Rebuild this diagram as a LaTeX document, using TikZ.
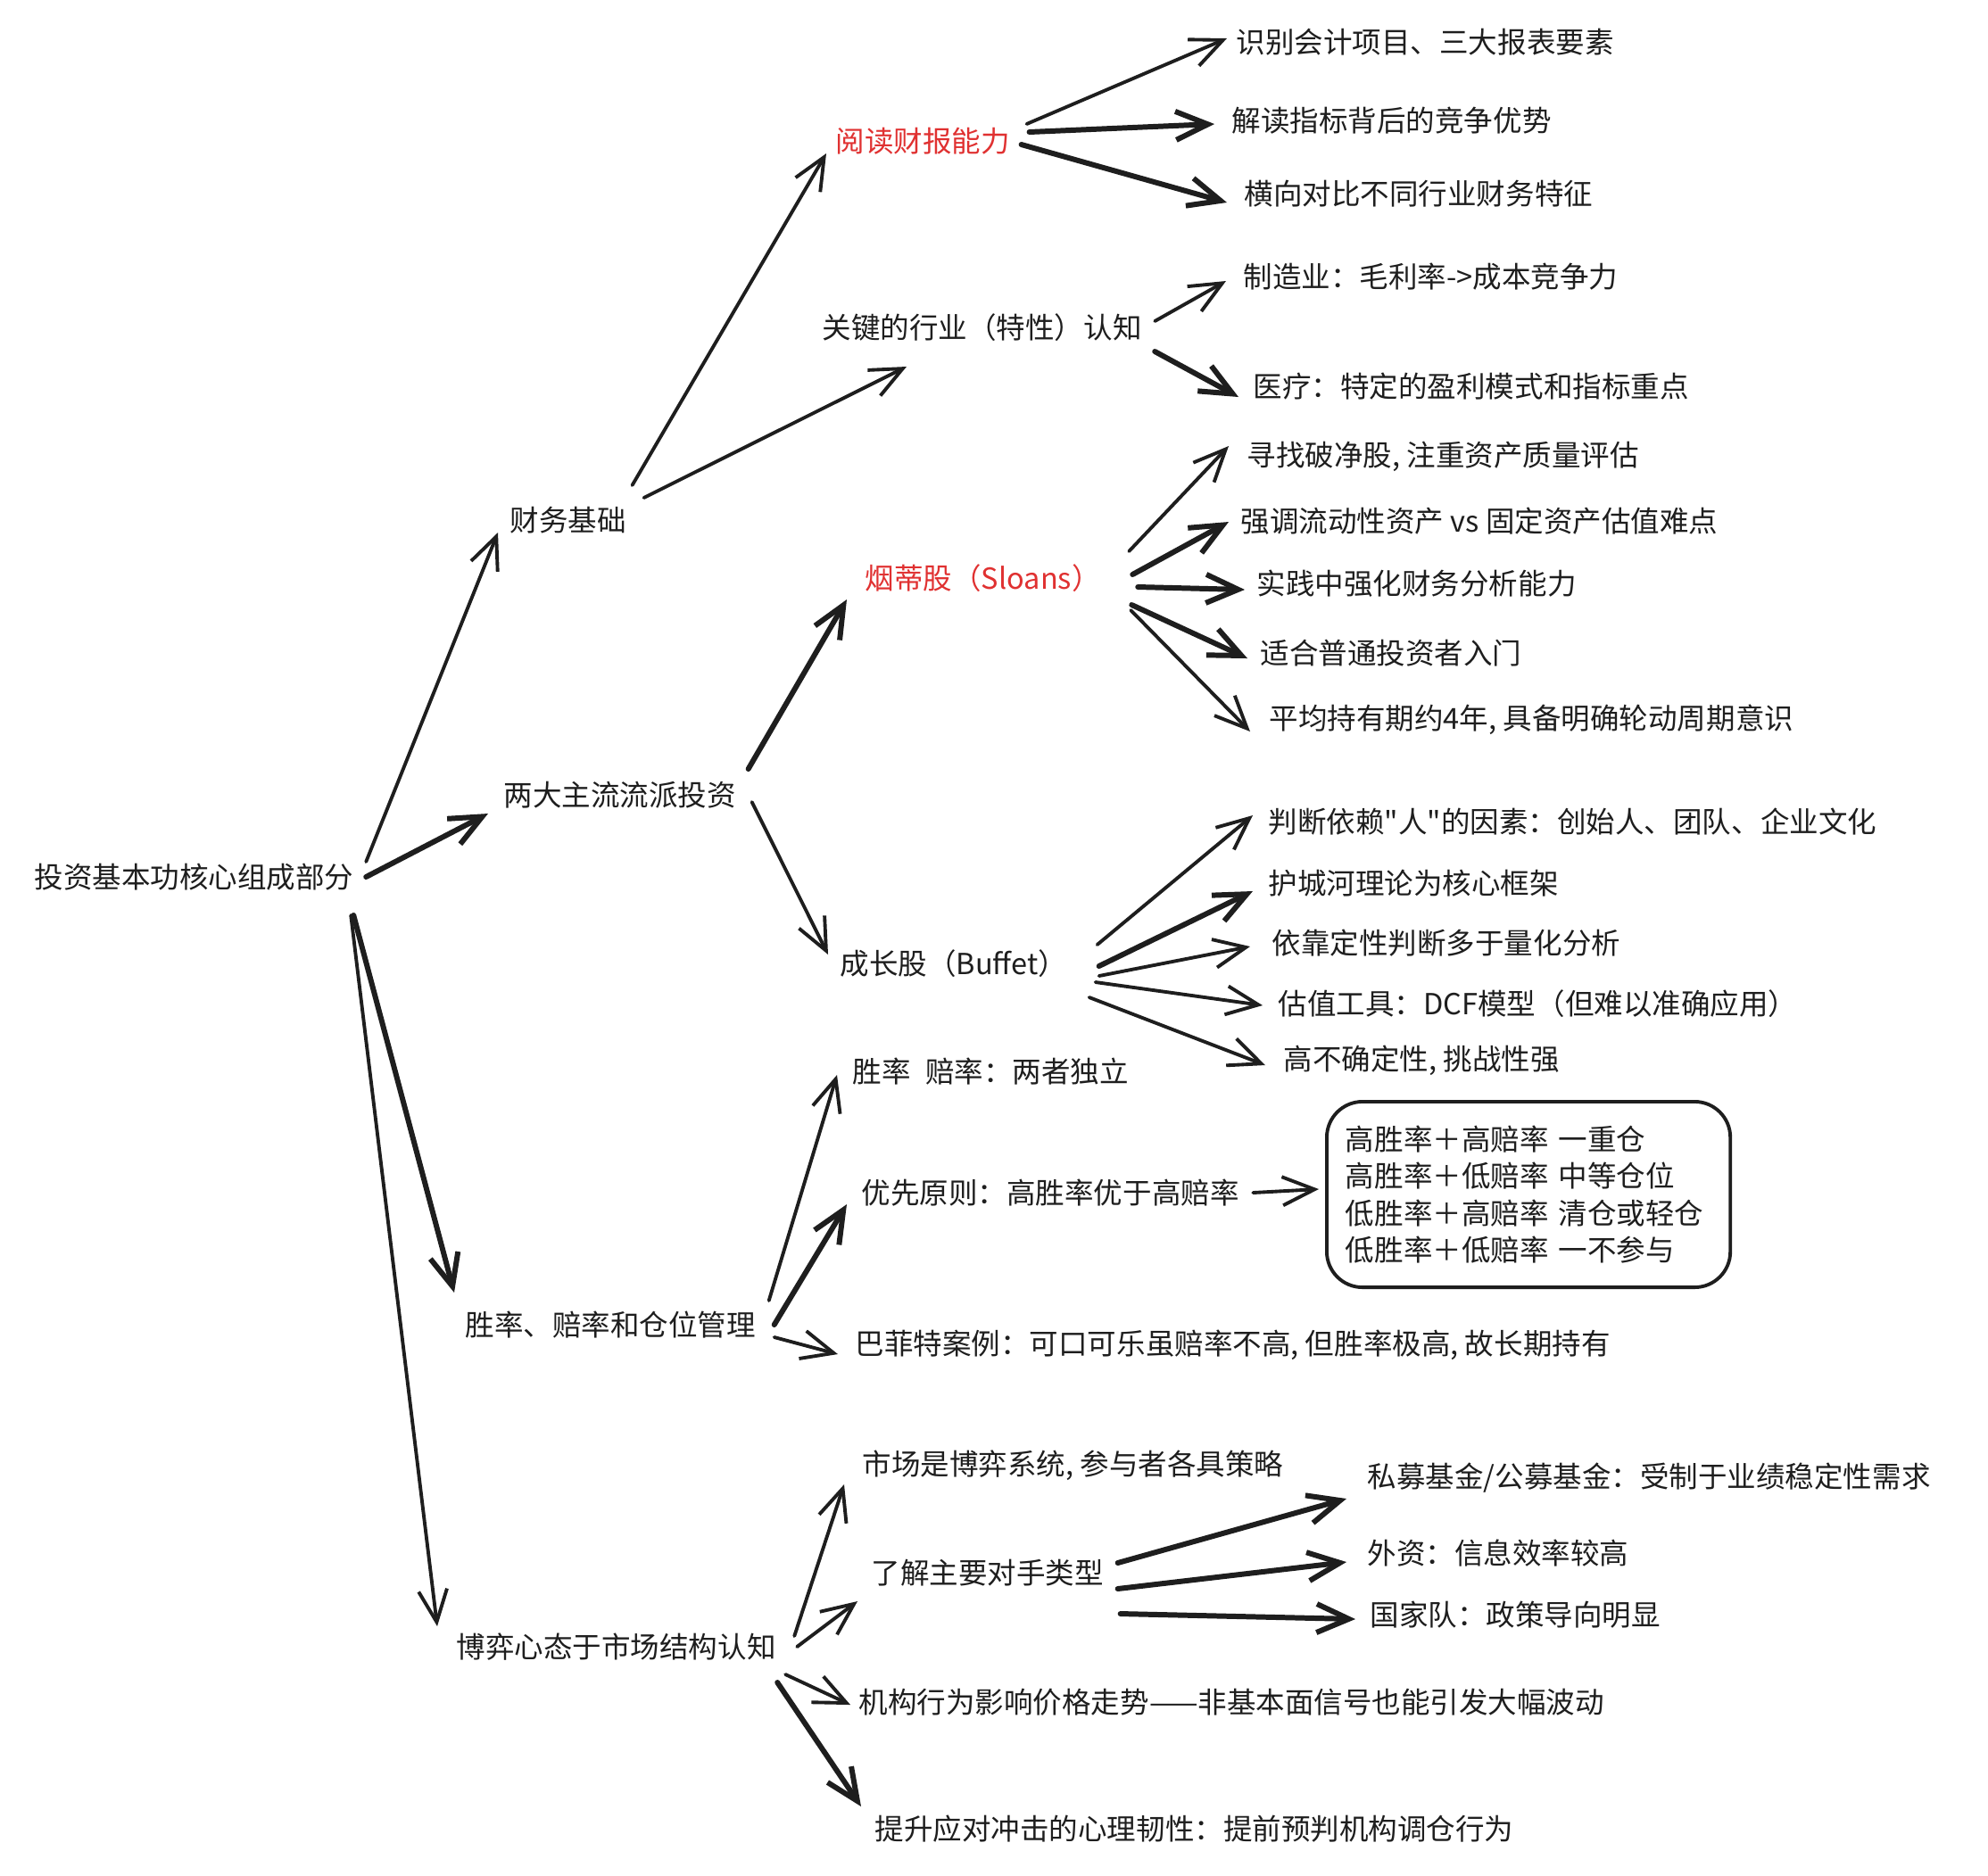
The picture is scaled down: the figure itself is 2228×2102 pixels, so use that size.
\documentclass[tikz,border=0pt]{standalone}
\usepackage{fontspec}
\setmainfont{Noto Sans CJK SC}
\newfontfamily\straightquote{Noto Sans CJK SC}[Ligatures=TeXOff]
\usepackage{xcolor}
\usetikzlibrary{arrows.meta}
\definecolor{Ink}{RGB}{30,30,30}
\definecolor{MarkRed}{RGB}{224,49,49}

\tikzset{
	lbl/.style={anchor=west, inner sep=0pt, text=Ink, font=\fontsize{9.25pt}{11.7pt}\selectfont},
	redlbl/.style={lbl, text=MarkRed},
	arr/.style={draw=Ink, line width=1.1pt, line cap=round, line join=round,
		-{Straight Barb[length=3.6mm, width=3.2mm]}},
	arrthick/.style={arr, line width=1.7pt}
}

\begin{document}
\begin{tikzpicture}[x=0.01cm, y=-0.01cm]
		\path[use as bounding box, fill=white] (0,0) rectangle (2228,2102);
		
		% 根节点
		\node[lbl] (root) at (38,983) {投资基本功核心组成部分};
		
		% 第一层
		\node[lbl] (fin)  at (571,583)  {财务基础};
		\node[lbl] (two)  at (564,891)  {两大主流流派投资};
		\node[lbl] (rate) at (521,1485) {胜率、赔率和仓位管理};
		\node[lbl] (game) at (511,1846) {博弈心态于市场结构认知};
		
		% 财务基础
		\node[redlbl] (read) at (936,158) {阅读财报能力};
		\node[lbl] (key)   at (921,367)  {关键的行业（特性）认知};
		\node[lbl] (read1) at (1385,47)  {识别会计项目、三大报表要素};
		\node[lbl] (read2) at (1380,135) {解读指标背后的竞争优势};
		\node[lbl] (read3) at (1394,217) {横向对比不同行业财务特征};
		\node[lbl] (key1)  at (1393,310) {制造业：毛利率->成本竞争力};
		\node[lbl] (key2)  at (1404,433) {医疗：特定的盈利模式和指标重点};
		
		% 两大流派
		\node[redlbl] (cig) at (969,648) {烟蒂股（Sloans）};
		\node[lbl] (grow)  at (941,1080)  {成长股（Buffet）};
		\node[lbl] (cig1)  at (1397,512)  {寻找破净股, 注重资产质量评估};
		\node[lbl] (cig2)  at (1390,584)  {强调流动性资产 vs 固定资产估值难点};
		\node[lbl] (cig3)  at (1408,654)  {实践中强化财务分析能力};
		\node[lbl] (cig4)  at (1412,732)  {适合普通投资者入门};
		\node[lbl] (cig5)  at (1422,807)  {平均持有期约4年, 具备明确轮动周期意识};
		\node[lbl] (grow1) at (1421,921)  {判断依赖{\straightquote"}人{\straightquote"}的因素：创始人、团队、企业文化};
		\node[lbl] (grow2) at (1421,990)  {护城河理论为核心框架};
		\node[lbl] (grow3) at (1425,1057) {依靠定性判断多于量化分析};
		\node[lbl] (grow4) at (1432,1125) {估值工具：DCF模型（但难以准确应用）};
		\node[lbl] (grow5) at (1438,1189) {高不确定性, 挑战性强};
		
		% 胜率赔率
		\node[lbl] (win1) at (955,1201) {胜率\hspace{0.5em}赔率：两者独立};
		\node[lbl] (win2) at (965,1337) {优先原则：高胜率优于高赔率};
		\node[lbl] (win3) at (958,1508) {巴菲特案例：可口可乐虽赔率不高, 但胜率极高, 故长期持有};
		\node[lbl, anchor=north west, draw=Ink, line width=1.1pt, rounded corners=4mm,
			align=left, text width=4.1cm, inner xsep=0.21cm, minimum height=2.08cm] (pos) at (1485,1233)
			{高胜率＋高赔率 一重仓\\高胜率＋低赔率 中等仓位\\低胜率＋高赔率 清仓或轻仓\\低胜率＋低赔率 一不参与};
		
		% 博弈
		\node[lbl] (mkt1) at (966,1643) {市场是博弈系统, 参与者各具策略};
		\node[lbl] (mkt2) at (976,1763) {了解主要对手类型};
		\node[lbl] (mkt3) at (962,1908) {机构行为影响价格走势——非基本面信号也能引发大幅波动};
		\node[lbl] (mkt4) at (980,2050) {提升应对冲击的心理韧性：提前预判机构调仓行为};
		\node[lbl] (opp1) at (1532,1657) {私募基金/公募基金：受制于业绩稳定性需求};
		\node[lbl] (opp2) at (1532,1741) {外资：信息效率较高};
		\node[lbl] (opp3) at (1535,1810) {国家队：政策导向明显};
		
		% 连线：根节点
		\draw[arr]      ([shift={(13,-17)}]root.east) -- ([shift={(-13,14)}]fin.west);
		\draw[arrthick] ([shift={(13,0)}]root.east)   -- ([shift={(-17,21)}]two.west);
		\draw[arrthick] ([shift={(-1,43)}]root.east)  -- ([shift={(-12,-36)}]rate.west);
		\draw[arr]      ([shift={(-4,43)}]root.east)  -- ([shift={(-21,-23)}]game.west);
		
		% 连线：财务基础
		\draw[arr]      ([shift={(6,-39)}]fin.east)  -- ([shift={(-10,14)}]read.west);
		\draw[arr]      ([shift={(19,-25)}]fin.east) -- ([shift={(95,44)}]key.west);
		\draw[arr]      ([shift={(18,-19)}]read.east) -- ([shift={(-10,-4)}]read1.west);
		\draw[arrthick] ([shift={(21,-10)}]read.east) -- ([shift={(-19,4)}]read2.west);
		\draw[arrthick] ([shift={(12,4)}]read.east)   -- ([shift={(-19,10)}]read3.west);
		\draw[arr]      ([shift={(14,-7)}]key.east) -- ([shift={(-19,5)}]key1.west);
		\draw[arrthick] ([shift={(14,27)}]key.east) -- ([shift={(-16,12)}]key2.west);
		
		% 连线：两大流派
		\draw[arrthick] ([shift={(13,-29)}]two.east) -- ([shift={(-20,24)}]cig.west);
		\draw[arr]      ([shift={(17,8)}]two.east)   -- ([shift={(-13,-10)}]grow.west);
		\draw[arr]      ([shift={(31,-30)}]cig.east) -- ([shift={(-20,-12)}]cig1.west);
		\draw[arrthick] ([shift={(35,-4)}]cig.east)  -- ([shift={(-13,1)}]cig2.west);
		\draw[arrthick] ([shift={(41,10)}]cig.east)  -- ([shift={(-13,7)}]cig3.west);
		\draw[arrthick] ([shift={(34,30)}]cig.east)  -- ([shift={(-14,6)}]cig4.west);
		\draw[arr]      ([shift={(33,36)}]cig.east)  -- ([shift={(-21,13)}]cig5.west);
		\draw[arr]      ([shift={(33,-21)}]grow.east) -- ([shift={(-17,-7)}]grow1.west);
		\draw[arrthick] ([shift={(35,3)}]grow.east)   -- ([shift={(-17,9)}]grow2.west);
		\draw[arr]      ([shift={(35,14)}]grow.east)  -- ([shift={(-24,4)}]grow3.west);
		\draw[arr]      ([shift={(31,21)}]grow.east)  -- ([shift={(-17,2)}]grow4.west);
		\draw[arr]      ([shift={(24,38)}]grow.east)  -- ([shift={(-20,5)}]grow5.west);
		
		% 连线：胜率赔率
		\draw[arr]      ([shift={(14,-27)}]rate.east) -- ([shift={(-17,4)}]win1.west);
		\draw[arrthick] ([shift={(20,0)}]rate.east)   -- ([shift={(-16,13)}]win2.west);
		\draw[arr]      ([shift={(20,14)}]rate.east)  -- ([shift={(-19,10)}]win3.west);
		\draw[arr]      ([shift={(15,0)}]win2.east)   -- ([shift={(-7,-6)}]pos.west);
		
		% 连线：博弈
		\draw[arr]      ([shift={(20,-12)}]game.east) -- ([shift={(-20,21)}]mkt1.west);
		\draw[arr]      ([shift={(23,0)}]game.east)   -- ([shift={(-15,32)}]mkt2.west);
		\draw[arr]      ([shift={(10,31)}]game.east)  -- ([shift={(-9,3)}]mkt3.west);
		\draw[arrthick] ([shift={(1,40)}]game.east)   -- ([shift={(-15,-25)}]mkt4.west);
		\draw[arrthick] ([shift={(15,-11)}]mkt2.east) -- ([shift={(-23,23)}]opp1.west);
		\draw[arrthick] ([shift={(15,18)}]mkt2.east)  -- ([shift={(-23,10)}]opp2.west);
		\draw[arrthick] ([shift={(18,46)}]mkt2.east)  -- ([shift={(-16,5)}]opp3.west);
	\end{tikzpicture}
\end{document}
